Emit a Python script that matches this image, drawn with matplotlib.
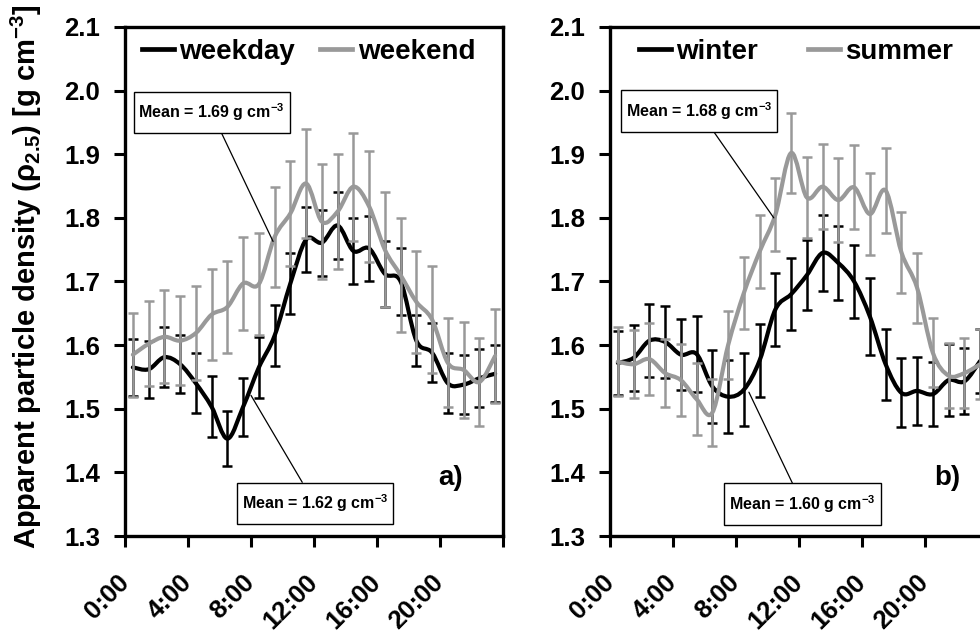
import matplotlib
matplotlib.use("Agg")
import matplotlib.pyplot as plt
import numpy as np
from matplotlib.lines import Line2D
from matplotlib.path import Path
from matplotlib.patches import PathPatch

plt.rcParams["font.family"] = ["Liberation Sans", "DejaVu Sans"]
plt.rcParams["font.weight"] = "bold"
plt.rcParams["mathtext.fontset"] = "custom"
plt.rcParams["mathtext.rm"] = "Liberation Sans:bold"
plt.rcParams["mathtext.bf"] = "Liberation Sans:bold"

# hour of day (centre of each hourly bin)
hours = [h + 0.5 for h in range(24)]

weekday = [1.565, 1.562, 1.581, 1.570, 1.540, 1.503, 1.453, 1.503, 1.565, 1.615, 1.697, 1.766,
           1.761, 1.788, 1.748, 1.752, 1.712, 1.700, 1.607, 1.588, 1.540, 1.538, 1.548, 1.555]
weekday_err = [0.045, 0.045, 0.047, 0.046, 0.047, 0.048, 0.043, 0.046, 0.048, 0.048, 0.048, 0.051,
               0.052, 0.052, 0.052, 0.051, 0.052, 0.052, 0.040, 0.046, 0.047, 0.047, 0.046, 0.045]
weekend = [1.585, 1.602, 1.613, 1.607, 1.619, 1.648, 1.660, 1.697, 1.696, 1.770, 1.807, 1.854,
           1.794, 1.810, 1.849, 1.818, 1.750, 1.710, 1.668, 1.640, 1.572, 1.561, 1.542, 1.583]
weekend_err = [0.066, 0.067, 0.073, 0.070, 0.074, 0.072, 0.073, 0.073, 0.080, 0.078, 0.083, 0.086,
               0.090, 0.090, 0.085, 0.087, 0.090, 0.090, 0.080, 0.084, 0.070, 0.075, 0.069, 0.074]

winter = [1.572, 1.580, 1.607, 1.605, 1.585, 1.586, 1.535, 1.519, 1.530, 1.576, 1.656, 1.680,
          1.710, 1.745, 1.729, 1.700, 1.645, 1.570, 1.525, 1.528, 1.523, 1.545, 1.543, 1.575]
winter_err = [0.050, 0.052, 0.057, 0.056, 0.056, 0.060, 0.058, 0.057, 0.057, 0.057, 0.057, 0.057,
              0.055, 0.060, 0.058, 0.058, 0.061, 0.056, 0.054, 0.053, 0.050, 0.056, 0.052, 0.050]
summer = [1.574, 1.570, 1.578, 1.556, 1.545, 1.515, 1.494, 1.600, 1.682, 1.747, 1.805, 1.902,
          1.832, 1.849, 1.828, 1.848, 1.806, 1.843, 1.746, 1.690, 1.588, 1.552, 1.556, 1.570]
summer_err = [0.054, 0.053, 0.056, 0.054, 0.056, 0.057, 0.052, 0.053, 0.056, 0.057, 0.057, 0.063,
              0.064, 0.067, 0.066, 0.066, 0.065, 0.067, 0.064, 0.055, 0.054, 0.051, 0.055, 0.055]

x_ticks = [0, 4, 8, 12, 16, 20, 24]
x_tick_labels = ["0:00", "4:00", "8:00", "12:00", "16:00", "20:00", ""]

GREY = "#999999"


def smooth_curve(ax, x, y, color, zorder):
    """Excel-style smoothed line (Catmull-Rom as cubic Bezier)."""
    pts = np.column_stack([x, y])
    padded = np.vstack([pts[0], pts, pts[-1]])
    verts = [pts[0]]
    codes = [Path.MOVETO]
    for i in range(len(pts) - 1):
        p0, p1, p2, p3 = padded[i], padded[i + 1], padded[i + 2], padded[i + 3]
        verts += [p1 + (p2 - p0) / 6, p2 - (p3 - p1) / 6, p2]
        codes += [Path.CURVE4] * 3
    patch = PathPatch(Path(verts, codes), fill=False, edgecolor=color, lw=3.0,
                      joinstyle="round", capstyle="round", zorder=zorder)
    ax.add_patch(patch)


def label_box(x0, y0, width, height, mutation_size):
    """Rectangle with more padding top/bottom than left/right."""
    padx = 0.3 * mutation_size
    pady = 0.62 * mutation_size
    x0, y0 = x0 - padx, y0 - pady
    x1, y1 = x0 + width + 2 * padx, y0 + height + 2 * pady
    return Path([(x0, y0), (x1, y0), (x1, y1), (x0, y1), (x0, y0)], closed=True)


def draw_panel(ax, series, legend_spacing, panel_label, label_x, boxes):
    for values, errors, color, z, _name in series:
        ax.errorbar(hours, values, yerr=errors, fmt="none", ecolor=color,
                    elinewidth=1.8, capsize=3.3, capthick=1.8, zorder=z)
        smooth_curve(ax, hours, values, color, z + 0.1)

    ax.set_xlim(0, 24)
    ax.set_ylim(1.3, 2.1)
    ax.set_yticks(np.arange(1.3, 2.11, 0.1))
    ax.set_yticklabels([f"{v:.1f}" for v in np.arange(1.3, 2.11, 0.1)])
    ax.set_xticks(x_ticks)
    ax.set_xticklabels(x_tick_labels)
    ax.tick_params(axis="both", direction="out", length=8, width=2.2, labelsize=18.5)
    ax.tick_params(axis="y", pad=10)
    ax.tick_params(axis="x", pad=23)
    for lab in ax.get_xticklabels():
        lab.set_rotation(45)
        lab.set_ha("right")
        lab.set_va("center")
        lab.set_rotation_mode("anchor")
    for spine in ax.spines.values():
        spine.set_linewidth(2.4)

    handles = [Line2D([], [], color=s[2], lw=3.4) for s in series]
    ax.legend(handles, [s[4] for s in series], loc="center left",
              bbox_to_anchor=(legend_spacing[0], 0.951), ncol=2, frameon=False,
              fontsize=20, handlelength=1.15, handletextpad=0.2,
              columnspacing=legend_spacing[1], borderpad=0, borderaxespad=0)

    ax.text(label_x, 0.114, panel_label, transform=ax.transAxes, fontsize=20,
            ha="center", va="center")

    for text, target, centre in boxes:
        ax.annotate(text, xy=target, xytext=centre, textcoords="data",
                    ha="center", va="center", fontsize=11.5,
                    bbox=dict(boxstyle=label_box, fc="white", ec="black", lw=1.0),
                    arrowprops=dict(arrowstyle="-", color="black", lw=0.9,
                                    shrinkA=0, shrinkB=0),
                    zorder=6)


fig = plt.figure(figsize=(9.8, 6.35), dpi=100)
ax_a = fig.add_axes([125 / 980, 99 / 635, 378 / 980, 509 / 635])
ax_b = fig.add_axes([610 / 980, 99 / 635, 378 / 980, 509 / 635])

draw_panel(
    ax_a,
    [(weekday, weekday_err, "black", 2, "weekday"),
     (weekend, weekend_err, GREY, 3, "weekend")],
    (0.045, 0.9), "a)", 0.86,
    [(r"Mean = 1.69 g cm$^{-3}$", (9.4, 1.763), (5.5, 1.966)),
     (r"Mean = 1.62 g cm$^{-3}$", (8.0, 1.521), (12.05, 1.351))],
)
draw_panel(
    ax_b,
    [(winter, winter_err, "black", 2, "winter"),
     (summer, summer_err, GREY, 3, "summer")],
    (0.076, 1.8), "b)", 0.891,
    [(r"Mean = 1.68 g cm$^{-3}$", (10.4, 1.80), (5.67, 1.968)),
     (r"Mean = 1.60 g cm$^{-3}$", (8.82, 1.526), (12.22, 1.35))],
)

fig.text(26 / 980, 1 - 277 / 635,
         r"Apparent particle density (ρ$_{2.5}$) [g cm$^{-3}$]",
         rotation=90, ha="center", va="center", fontsize=21)

fig.savefig("out.png", dpi=100)
